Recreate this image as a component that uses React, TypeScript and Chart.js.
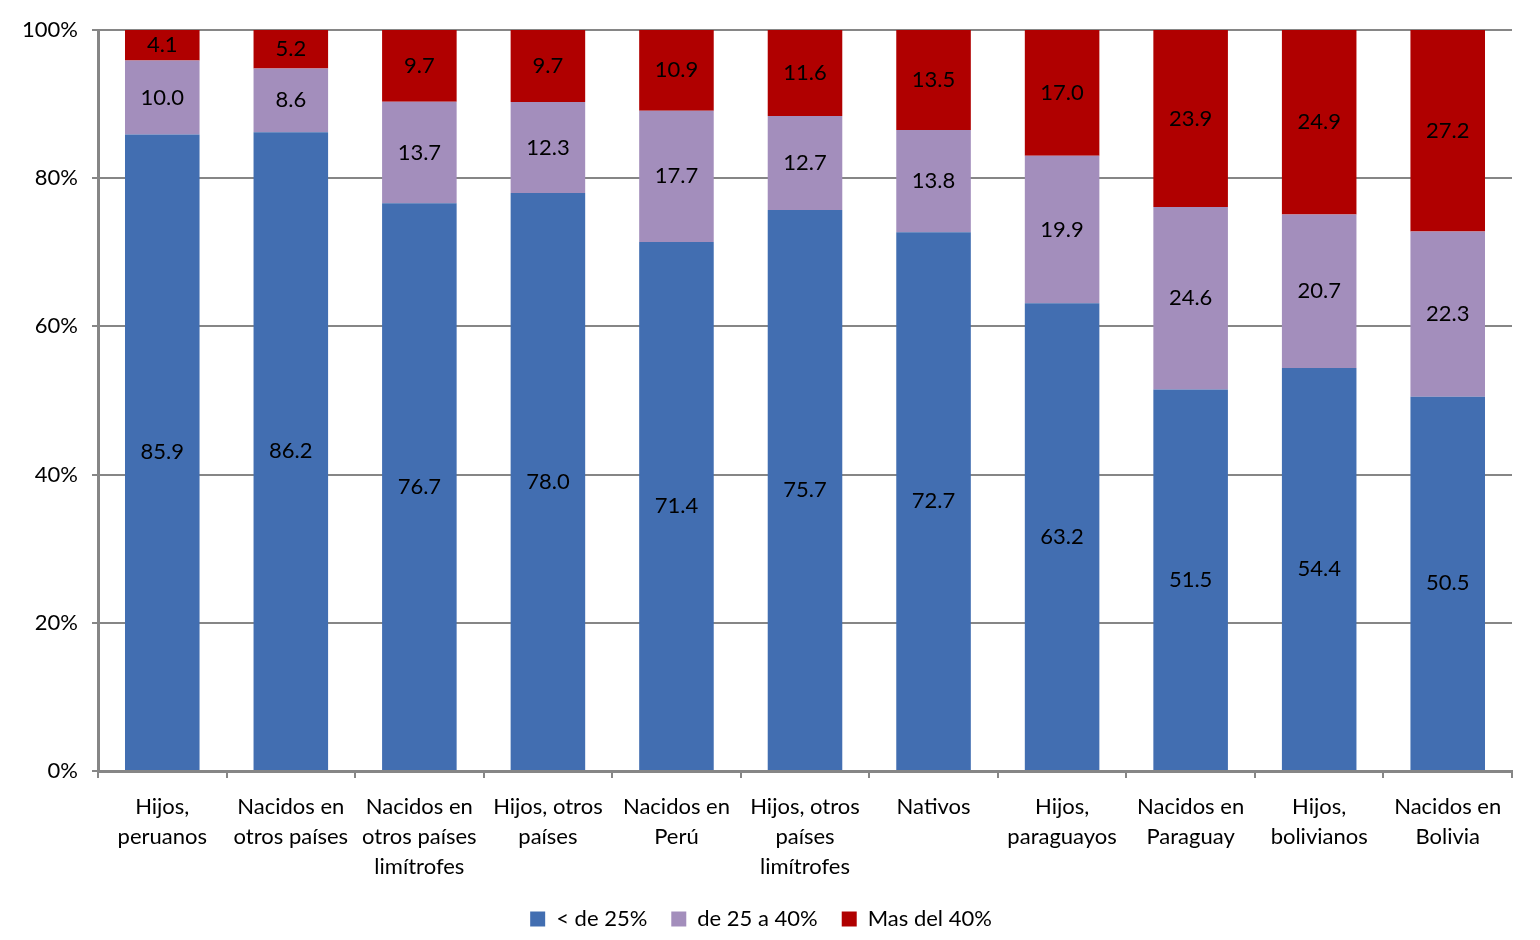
import { useEffect, useRef } from 'react';
import { Chart, registerables } from 'chart.js';

Chart.register(...registerables);

const categories = [
  ['Hijos,', 'peruanos'],
  ['Nacidos en', 'otros países'],
  ['Nacidos en', 'otros países', 'limítrofes'],
  ['Hijos, otros', 'países'],
  ['Nacidos en', 'Perú'],
  ['Hijos, otros', 'países', 'limítrofes'],
  ['Nativos'],
  ['Hijos,', 'paraguayos'],
  ['Nacidos en', 'Paraguay'],
  ['Hijos,', 'bolivianos'],
  ['Nacidos en', 'Bolivia'],
];

const seriesNames = ['< de 25%', 'de 25 a 40%', 'Mas del 40%'];
const menos25 = [85.9, 86.2, 76.7, 78.0, 71.4, 75.7, 72.7, 63.2, 51.5, 54.4, 50.5];
const de25a40 = [10.0, 8.6, 13.7, 12.3, 17.7, 12.7, 13.8, 19.9, 24.6, 20.7, 22.3];
const mas40 = [4.1, 5.2, 9.7, 9.7, 10.9, 11.6, 13.5, 17.0, 23.9, 24.9, 27.2];
const yTicks = [0, 20, 40, 60, 80, 100];

const colors = ['#426EB1', '#A38EBC', '#B00000'];
const FONT = 'Lato, "Open Sans", sans-serif';
const GRID = '#868686';

const raw = [menos25, de25a40, mas40];
const totals = menos25.map((_, i) => menos25[i] + de25a40[i] + mas40[i]);

// labels in the middle of every segment
const valueLabels = {
  id: 'valueLabels',
  afterDatasetsDraw(chart: Chart) {
    const ctx = chart.ctx;
    ctx.save();
    ctx.font = `22px ${FONT}`;
    ctx.fillStyle = '#000';
    ctx.textAlign = 'center';
    ctx.textBaseline = 'middle';
    chart.data.datasets.forEach((_, di) => {
      const meta = chart.getDatasetMeta(di);
      meta.data.forEach((bar: any, i: number) => {
        const { x, y, base } = bar.getProps(['x', 'y', 'base'], true);
        ctx.fillText(raw[di][i].toFixed(1), x, (y + base) / 2);
      });
    });
    ctx.restore();
  },
};

export default function App() {
  const chartRef = useRef<HTMLCanvasElement>(null);
  const chartInstance = useRef<Chart | null>(null);

  useEffect(() => {
    if (!chartRef.current) return;
    if (chartInstance.current) chartInstance.current.destroy();
    const ctx = chartRef.current.getContext('2d');
    if (!ctx) return;

    chartInstance.current = new Chart(ctx, {
      type: 'bar',
      data: {
        labels: categories,
        datasets: raw.map((vals, di) => ({
          label: seriesNames[di],
          data: vals.map((v, i) => (v / totals[i]) * 100),
          backgroundColor: colors[di],
          borderWidth: 0,
          barPercentage: 0.58,
          categoryPercentage: 1,
        })),
      },
      options: {
        animation: false,
        responsive: true,
        maintainAspectRatio: false,
        layout: { padding: { top: 30, right: 28, left: 10, bottom: 0 } },
        plugins: {
          legend: {
            position: 'bottom',
            labels: {
              font: { family: FONT, size: 22 },
              color: '#000',
              boxWidth: 15,
              boxHeight: 15,
              padding: 24,
            },
          },
          tooltip: { enabled: false },
        },
        scales: {
          x: {
            stacked: true,
            afterFit: (scale: any) => {
              scale.height = 113;
            },
            grid: {
              offset: true,
              drawOnChartArea: false,
              drawTicks: true,
              tickLength: 7,
              color: GRID,
              lineWidth: 2,
            },
            border: { color: GRID, width: 3 },
            ticks: {
              font: { family: FONT, size: 22, lineHeight: 1.36 },
              color: '#000',
              padding: 14,
              maxRotation: 0,
              autoSkip: false,
            },
          },
          y: {
            stacked: true,
            min: 0,
            max: 100,
            afterFit: (scale: any) => {
              scale.width = 88;
            },
            afterBuildTicks: (scale: any) => {
              scale.ticks = yTicks.map(v => ({ value: v }));
            },
            grid: { color: GRID, lineWidth: 2, tickLength: 6 },
            border: { color: GRID, width: 3 },
            ticks: {
              font: { family: FONT, size: 22 },
              color: '#000',
              padding: 14,
              callback: (v: any) => `${v}%`,
            },
          },
        },
      },
      plugins: [valueLabels],
    });

    return () => {
      if (chartInstance.current) {
        chartInstance.current.destroy();
        chartInstance.current = null;
      }
    };
  }, []);

  return (
    <div style={{ position: 'fixed', left: 0, top: 0, width: 1540, height: 940, background: '#fff' }}>
      <canvas ref={chartRef}></canvas>
    </div>
  );
}
